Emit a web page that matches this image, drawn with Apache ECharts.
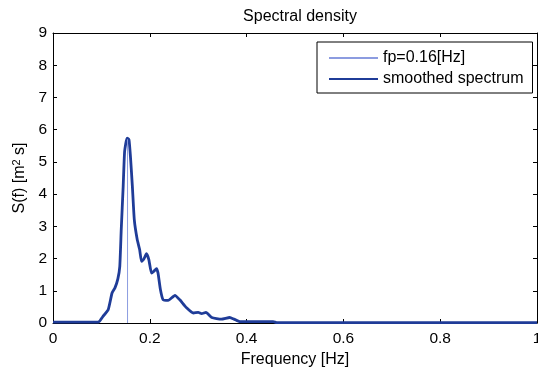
<!doctype html>
<html lang="en">
    <head>
        <meta charset="UTF-8">
        <title>Spectral density</title>
        <script src="https://cdn.jsdelivr.net/npm/echarts@6/dist/echarts.min.js"></script>
        <style>
            html, body { margin: 0; padding: 0; background: #fff; }
        </style>
    </head>
    <body>
        <div id="main" style="width: 538px;height:372px;"></div>
        <script type="text/javascript">
            // values
            var freq = [0, 0.094, 0.103, 0.114, 0.122, 0.128, 0.134, 0.138, 0.141, 0.145, 0.148, 0.153, 0.157, 0.160,
                0.164, 0.168, 0.174, 0.179, 0.183, 0.188, 0.193, 0.198, 0.2035, 0.208, 0.214, 0.217, 0.222, 0.2275,
                0.238, 0.252, 0.262, 0.276, 0.29, 0.30, 0.307, 0.316, 0.328, 0.348, 0.365, 0.374, 0.386, 0.455, 0.462, 1.0];
            var density = [0.03, 0.03, 0.2, 0.41, 0.93, 1.09, 1.37, 1.76, 2.9, 4.24, 5.33, 5.74, 5.69, 5.17,
                4.24, 3.2, 2.59, 2.28, 1.91, 1.99, 2.15, 1.97, 1.55, 1.6, 1.69, 1.55, 1.03, 0.72,
                0.70, 0.86, 0.72, 0.47, 0.31, 0.33, 0.29, 0.33, 0.17, 0.12, 0.17, 0.12, 0.04, 0.04, 0.01, 0.01];
            var fpFreq = [0.154, 0.154];
            var fpLevel = [0, 5.7];
            var seriesNames = ['fp=0.16[Hz]', 'smoothed spectrum'];

            var font = 'Liberation Sans, Arial, sans-serif';
            var myChart = echarts.init(document.getElementById('main'));

            function pairs(xs, ys) {
                return xs.map(function (x, i) { return [x, ys[i]]; });
            }

            var tickIn = { show: true, inside: true, length: 4, lineStyle: { color: '#000', width: 1 } };
            var boxLine = { show: true, onZero: false, lineStyle: { color: '#000', width: 1 } };

            var option = {
                animation: false,
                title: {
                    text: 'Spectral density',
                    left: 295,
                    top: 4,
                    textAlign: 'center',
                    textStyle: { fontFamily: font, fontSize: 16, fontWeight: 'normal', color: '#000' }
                },
                legend: {
                    data: seriesNames,
                    orient: 'vertical',
                    left: 317,
                    top: 42,
                    padding: [8, 9, 6, 11],
                    itemGap: 5,
                    itemWidth: 49,
                    itemHeight: 14,
                    borderColor: '#000',
                    borderWidth: 1,
                    backgroundColor: '#fff',
                    itemStyle: { opacity: 0 },
                    textStyle: { fontFamily: font, fontSize: 16, color: '#000' }
                },
                grid: {
                    left: 53,
                    right: 1,
                    top: 33,
                    bottom: 49,
                    outerBoundsMode: 'none'
                },
                xAxis: [{
                    type: 'value',
                    min: 0,
                    max: 1,
                    interval: 0.2,
                    name: 'Frequency [Hz]',
                    nameLocation: 'middle',
                    nameGap: 28,
                    nameTextStyle: { fontFamily: font, fontSize: 16, color: '#000' },
                    axisLine: boxLine,
                    axisTick: tickIn,
                    axisLabel: { fontFamily: font, fontSize: 15.5, color: '#000', margin: 8 },
                    splitLine: { show: false }
                }, {
                    type: 'value',
                    position: 'top',
                    min: 0,
                    max: 1,
                    interval: 0.2,
                    axisLine: boxLine,
                    axisTick: tickIn,
                    axisLabel: { show: false },
                    splitLine: { show: false }
                }],
                yAxis: [{
                    type: 'value',
                    min: 0,
                    max: 9,
                    interval: 1,
                    name: 'S(f) [m{sup|2} s]',
                    nameLocation: 'middle',
                    nameRotate: 90,
                    nameGap: 22,
                    nameTextStyle: {
                        fontFamily: font, fontSize: 16, color: '#000',
                        rich: { sup: { fontFamily: font, fontSize: 11, color: '#000', verticalAlign: 'top', padding: [0, 0, 6, 0] } }
                    },
                    axisLine: boxLine,
                    axisTick: tickIn,
                    axisLabel: { fontFamily: font, fontSize: 15.5, color: '#000', margin: 6 },
                    splitLine: { show: false }
                }, {
                    type: 'value',
                    position: 'right',
                    min: 0,
                    max: 9,
                    interval: 1,
                    axisLine: boxLine,
                    axisTick: tickIn,
                    axisLabel: { show: false },
                    splitLine: { show: false }
                }],
                series: [
                    {
                        name: seriesNames[1],
                        type: 'line',
                        symbol: 'none',
                        smooth: 0.15,
                        lineStyle: { color: '#1f3c98', width: 2.8 },
                        itemStyle: { color: '#1f3c98' },
                        data: pairs(freq, density)
                    },
                    {
                        name: seriesNames[0],
                        type: 'line',
                        symbol: 'none',
                        z: 3,
                        lineStyle: { color: '#8c9ce0', width: 1 },
                        itemStyle: { color: '#8c9ce0' },
                        data: pairs(fpFreq, fpLevel)
                    }
                ]
            };

            myChart.setOption(option);
        </script>
    </body>
</html>
